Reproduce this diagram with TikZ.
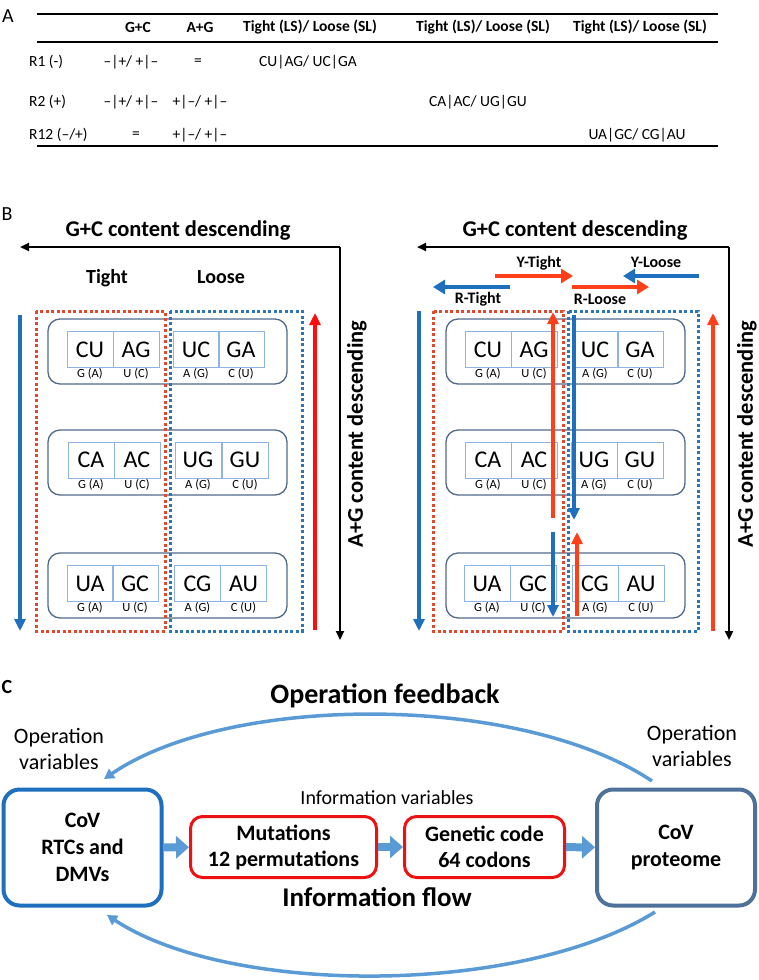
\documentclass[tikz,border=0pt]{standalone}
\usepackage{fontspec}
\setmainfont{Carlito}
\usepackage{tikz}
\usetikzlibrary{shapes.geometric, positioning, arrows.meta}
\usepackage{xcolor}

\definecolor{axisblue}{HTML}{1F6FBF}
\definecolor{axisred}{HTML}{FF0D0D}
\definecolor{flipred}{HTML}{FF3F1A}
\definecolor{dotred}{HTML}{E04A2C}
\definecolor{dotblue}{HTML}{2E75B6}
\definecolor{pairgray}{HTML}{50698A}
\definecolor{codonblue}{HTML}{8EB4E3}
\definecolor{flowblue}{HTML}{5B9BD5}
\definecolor{protgray}{HTML}{4F7199}
\definecolor{infored}{HTML}{EE1111}

\newcommand{\fsz}[2]{\fontsize{#1}{#2}\selectfont}

\begin{document}
\begin{tikzpicture}[x=1pt, y=-1pt]

    \useasboundingbox (0,0) rectangle (759,980);

    % Styles for the table
    \tikzstyle{tabhead} = [font=\bfseries\fsz{15.5}{17}, inner sep=0pt]
    \tikzstyle{tabcell} = [font=\fsz{15.5}{17}, inner sep=0pt]
    \tikzstyle{panel} = [font=\fsz{20}{22}, inner sep=0pt]

    % Styles for the codon panels
    \tikzstyle{axistitle} = [font=\bfseries\fsz{22.5}{24}, inner sep=0pt]
    \tikzstyle{sidetitle} = [font=\bfseries\fsz{20}{22}, inner sep=0pt, anchor=base]
    \tikzstyle{movetitle} = [font=\bfseries\fsz{16}{18}, inner sep=0pt, anchor=base]
    \tikzstyle{pairbox} = [rectangle, draw=pairgray, line width=1.3pt, rounded corners=12pt,
                           minimum width=239pt, minimum height=65pt]
    \tikzstyle{codon} = [rectangle, draw=codonblue, line width=1pt, inner sep=0pt,
                         minimum width=46pt, minimum height=36pt, font=\fsz{24}{25}]
    \tikzstyle{sub} = [font=\fsz{12.5}{13}, inner sep=0.5pt]
    \tikzstyle{dotbox} = [line width=3pt, dash pattern=on 3pt off 2.5pt]
    \tikzstyle{axis} = [black, line width=2.2pt, -{Triangle[width=8pt,length=9pt]}]
    \tikzstyle{trend} = [line width=3.5pt, -{Triangle[width=11pt,length=12pt]}]
    \tikzstyle{move} = [line width=4.5pt, -{Triangle[width=14pt,length=12pt]}]

    % Styles for the flow scheme
    \tikzstyle{flowtitle} = [font=\bfseries\fsz{28}{30}, inner sep=0pt, anchor=base]
    \tikzstyle{vartext} = [font=\fsz{22}{26}, inner sep=0pt, align=center]
    \tikzstyle{bigbox} = [rectangle, line width=4pt, rounded corners=16pt, align=center,
                          minimum width=158pt, minimum height=116pt, font=\bfseries\fsz{22}{27}]
    \tikzstyle{redbox} = [rectangle, draw=infored, line width=3pt, rounded corners=12pt, align=center,
                          minimum height=61pt, font=\bfseries\fsz{22}{26}]
    \tikzstyle{fat} = [flowblue, line width=8pt, -{Triangle[width=22pt,length=13pt]}]
    \tikzstyle{loopback} = [flowblue, line width=3.5pt, -{Triangle[width=11pt,length=10pt]}]

    % Panel A: table
    \node[panel] (labA) at (8,16) {A};
    \draw[line width=1.3pt] (37,14) -- (718,14);
    \draw[line width=1.1pt] (37,42) -- (718,42);
    \draw[line width=1.3pt] (37,146) -- (718,146);

    \node[tabhead] (hGC) at (138,27) {G+C};
    \node[tabhead] (hAG) at (200,27) {A+G};
    \node[tabhead] (hTL1) at (310,27) {Tight (LS)/ Loose (SL)};
    \node[tabhead] (hTL2) at (483,27) {Tight (LS)/ Loose (SL)};
    \node[tabhead] (hTL3) at (640,27) {Tight (LS)/ Loose (SL)};

    \node[tabcell, anchor=west] (r1) at (29,62) {R1 (-)};
    \node[tabcell] (r1gc) at (131,62) {–|+/ +|–};
    \node[tabcell] (r1ag) at (198,62) {=};
    \node[tabcell] (r1tl) at (308,62) {CU|AG/ UC|GA};

    \node[tabcell, anchor=west] (r2) at (29,102) {R2 (+)};
    \node[tabcell] (r2gc) at (131,102) {–|+/ +|–};
    \node[tabcell] (r2ag) at (200,102) {+|–/ +|–};
    \node[tabcell] (r2tl) at (478,102) {CA|AC/ UG|GU};

    \node[tabcell, anchor=west] (r12) at (29,135) {R12 (–/+)};
    \node[tabcell] (r12gc) at (136,135) {=};
    \node[tabcell] (r12ag) at (200,135) {+|–/ +|–};
    \node[tabcell] (r12tl) at (637,135) {UA|GC/ CG|AU};

    % Panel B, left half: axes and titles
    \node[panel] (labB) at (7,214) {B};
    \node[axistitle, anchor=base] (gcTitleL) at (178,236) {G+C content descending};
    \coordinate (cornerL) at (340,247);
    \draw[axis] (cornerL) -- (20,247);
    \draw[axis] (cornerL) -- (340,640);
    \node[axistitle, rotate=90] (agAxisL) at (357,434) {A+G content descending};
    \node[sidetitle] (tightL) at (107,283) {Tight};
    \node[sidetitle] (looseL) at (221,283) {Loose};

    % Panel B, left half: pair boxes and codons
    \node[pairbox] (pairL1) at (167.5,351.5) {};
    \node[pairbox] (pairL2) at (167.5,462.5) {};
    \node[pairbox] (pairL3) at (167.5,585.5) {};

    \node[codon, label={[sub]below:G (A)}] (cuL) at (90,349.5) {CU};
    \node[codon, label={[sub]below:U (C)}] (agL) at (136,349.5) {AG};
    \node[codon, label={[sub]below:A (G)}] (ucL) at (196,349.5) {UC};
    \node[codon, label={[sub]below:C (U)}] (gaL) at (241,349.5) {GA};

    \node[codon, label={[sub]below:G (A)}] (caL) at (91,460) {CA};
    \node[codon, label={[sub]below:U (C)}] (acL) at (137,460) {AC};
    \node[codon, label={[sub]below:A (G)}] (ugL) at (198,460) {UG};
    \node[codon, label={[sub]below:C (U)}] (guL) at (245,460) {GU};

    \node[codon, label={[sub]below:G (A)}] (uaL) at (90,583.5) {UA};
    \node[codon, label={[sub]below:U (C)}] (gcL) at (135,583.5) {GC};
    \node[codon, label={[sub]below:A (G)}] (cgL) at (197.5,583.5) {CG};
    \node[codon, label={[sub]below:C (U)}] (auL) at (243.5,583.5) {AU};

    \draw[dotbox, dotred] (36,311) rectangle (165,631);
    \draw[dotbox, dotblue] (170,311) rectangle (302,631);
    \draw[trend, axisblue] (20,315) -- (20,631);
    \draw[trend, axisred] (315,630) -- (315,313);

    % Panel B, right half: axes and titles
    \node[axistitle, anchor=base] (gcTitleR) at (575,236) {G+C content descending};
    \coordinate (cornerR) at (729,247);
    \draw[axis] (cornerR) -- (417,247);
    \draw[axis] (cornerR) -- (729,640);
    \node[axistitle, rotate=90] (agAxisR) at (747,434) {A+G content descending};
    \node[movetitle] (yTight) at (539,267) {Y-Tight};
    \node[movetitle] (yLoose) at (656,267) {Y-Loose};
    \node[movetitle] (rTight) at (478,303) {R-Tight};
    \node[movetitle] (rLoose) at (600,304) {R-Loose};
    \draw[move, flipred] (495,276) -- (573,276);
    \draw[move, axisblue] (699,276) -- (623,276);
    \draw[move, axisblue] (510,287) -- (433,287);
    \draw[move, flipred] (572,287) -- (649,287);

    % Panel B, right half: pair boxes and codons
    \node[pairbox] (pairR1) at (565.5,351.5) {};
    \node[pairbox] (pairR2) at (565.5,462.5) {};
    \node[pairbox] (pairR3) at (565.5,585.5) {};

    \node[codon, label={[sub]below:G (A)}] (cuR) at (488,349.5) {CU};
    \node[codon, label={[sub]below:U (C)}] (agR) at (534,349.5) {AG};
    \node[codon, label={[sub]below:A (G)}] (ucR) at (595,349.5) {UC};
    \node[codon, label={[sub]below:C (U)}] (gaR) at (640,349.5) {GA};

    \node[codon, label={[sub]below:G (A)}] (caR) at (488,460) {CA};
    \node[codon, label={[sub]below:U (C)}] (acR) at (534,460) {AC};
    \node[codon, label={[sub]below:A (G)}] (ugR) at (594,460) {UG};
    \node[codon, label={[sub]below:C (U)}] (guR) at (640,460) {GU};

    \node[codon, label={[sub]below:G (A)}] (uaR) at (487,583.5) {UA};
    \node[codon, label={[sub]below:U (C)}] (gcR) at (533,583.5) {GC};
    \node[codon, label={[sub]below:A (G)}] (cgR) at (595,583.5) {CG};
    \node[codon, label={[sub]below:C (U)}] (auR) at (641,583.5) {AU};

    \draw[dotbox, dotred] (433,311) rectangle (563,631);
    \draw[dotbox, dotblue] (568,311) rectangle (698,631);
    \draw[trend, axisblue] (419,311) -- (419,631);
    \draw[trend, flipred] (713,631) -- (713,313);

    % switches between tight and loose
    \draw[trend, flipred] (553,518) -- (553,312);
    \draw[trend, axisblue] (574,315) -- (574,520);
    \draw[trend, axisblue] (553,532) -- (553,617);
    \draw[trend, flipred] (577,616) -- (577,532);

    % Panel C: flow scheme
    \node[panel, font=\bfseries\fsz{20}{22}] (labC) at (7,687) {C};
    \node[flowtitle] (fbTitle) at (385,703) {Operation feedback};
    \node[vartext] (opvarL) at (59,749) {Operation\\variables};
    \node[vartext] (opvarR) at (692,746) {Operation\\variables};
    \node[font=\fsz{20}{22}, inner sep=0pt, anchor=base] (infoVar) at (387,804) {Information variables};
    \node[flowtitle, font=\bfseries\fsz{27}{30}] (flowTitle) at (377,906) {Information flow};

    \node[bigbox, draw=axisblue] (rtc) at (82.5,847.5) {CoV\\RTCs and\\DMVs};
    \node[redbox, minimum width=186pt] (mut) at (283.5,847) {Mutations\\12 permutations};
    \node[redbox, minimum width=160pt] (gen) at (484.5,847) {Genetic code\\64 codons};
    \node[bigbox, draw=protgray] (prot) at (676,847.5) {CoV\\proteome};

    \draw[fat] (rtc) -- (mut);
    \draw[fat] (mut) -- (gen);
    \draw[fat] (gen) -- (prot);

    \draw[loopback] ([shift={(-24,-6.5)}]prot.north) .. controls (520,693) and (230,693) .. ([shift={(21.5,-8.5)}]rtc.north);
    \draw[loopback] ([shift={(-21,4.5)}]prot.south) .. controls (520,996) and (230,996) .. ([shift={(24.5,7.5)}]rtc.south);

\end{tikzpicture}
\end{document}
